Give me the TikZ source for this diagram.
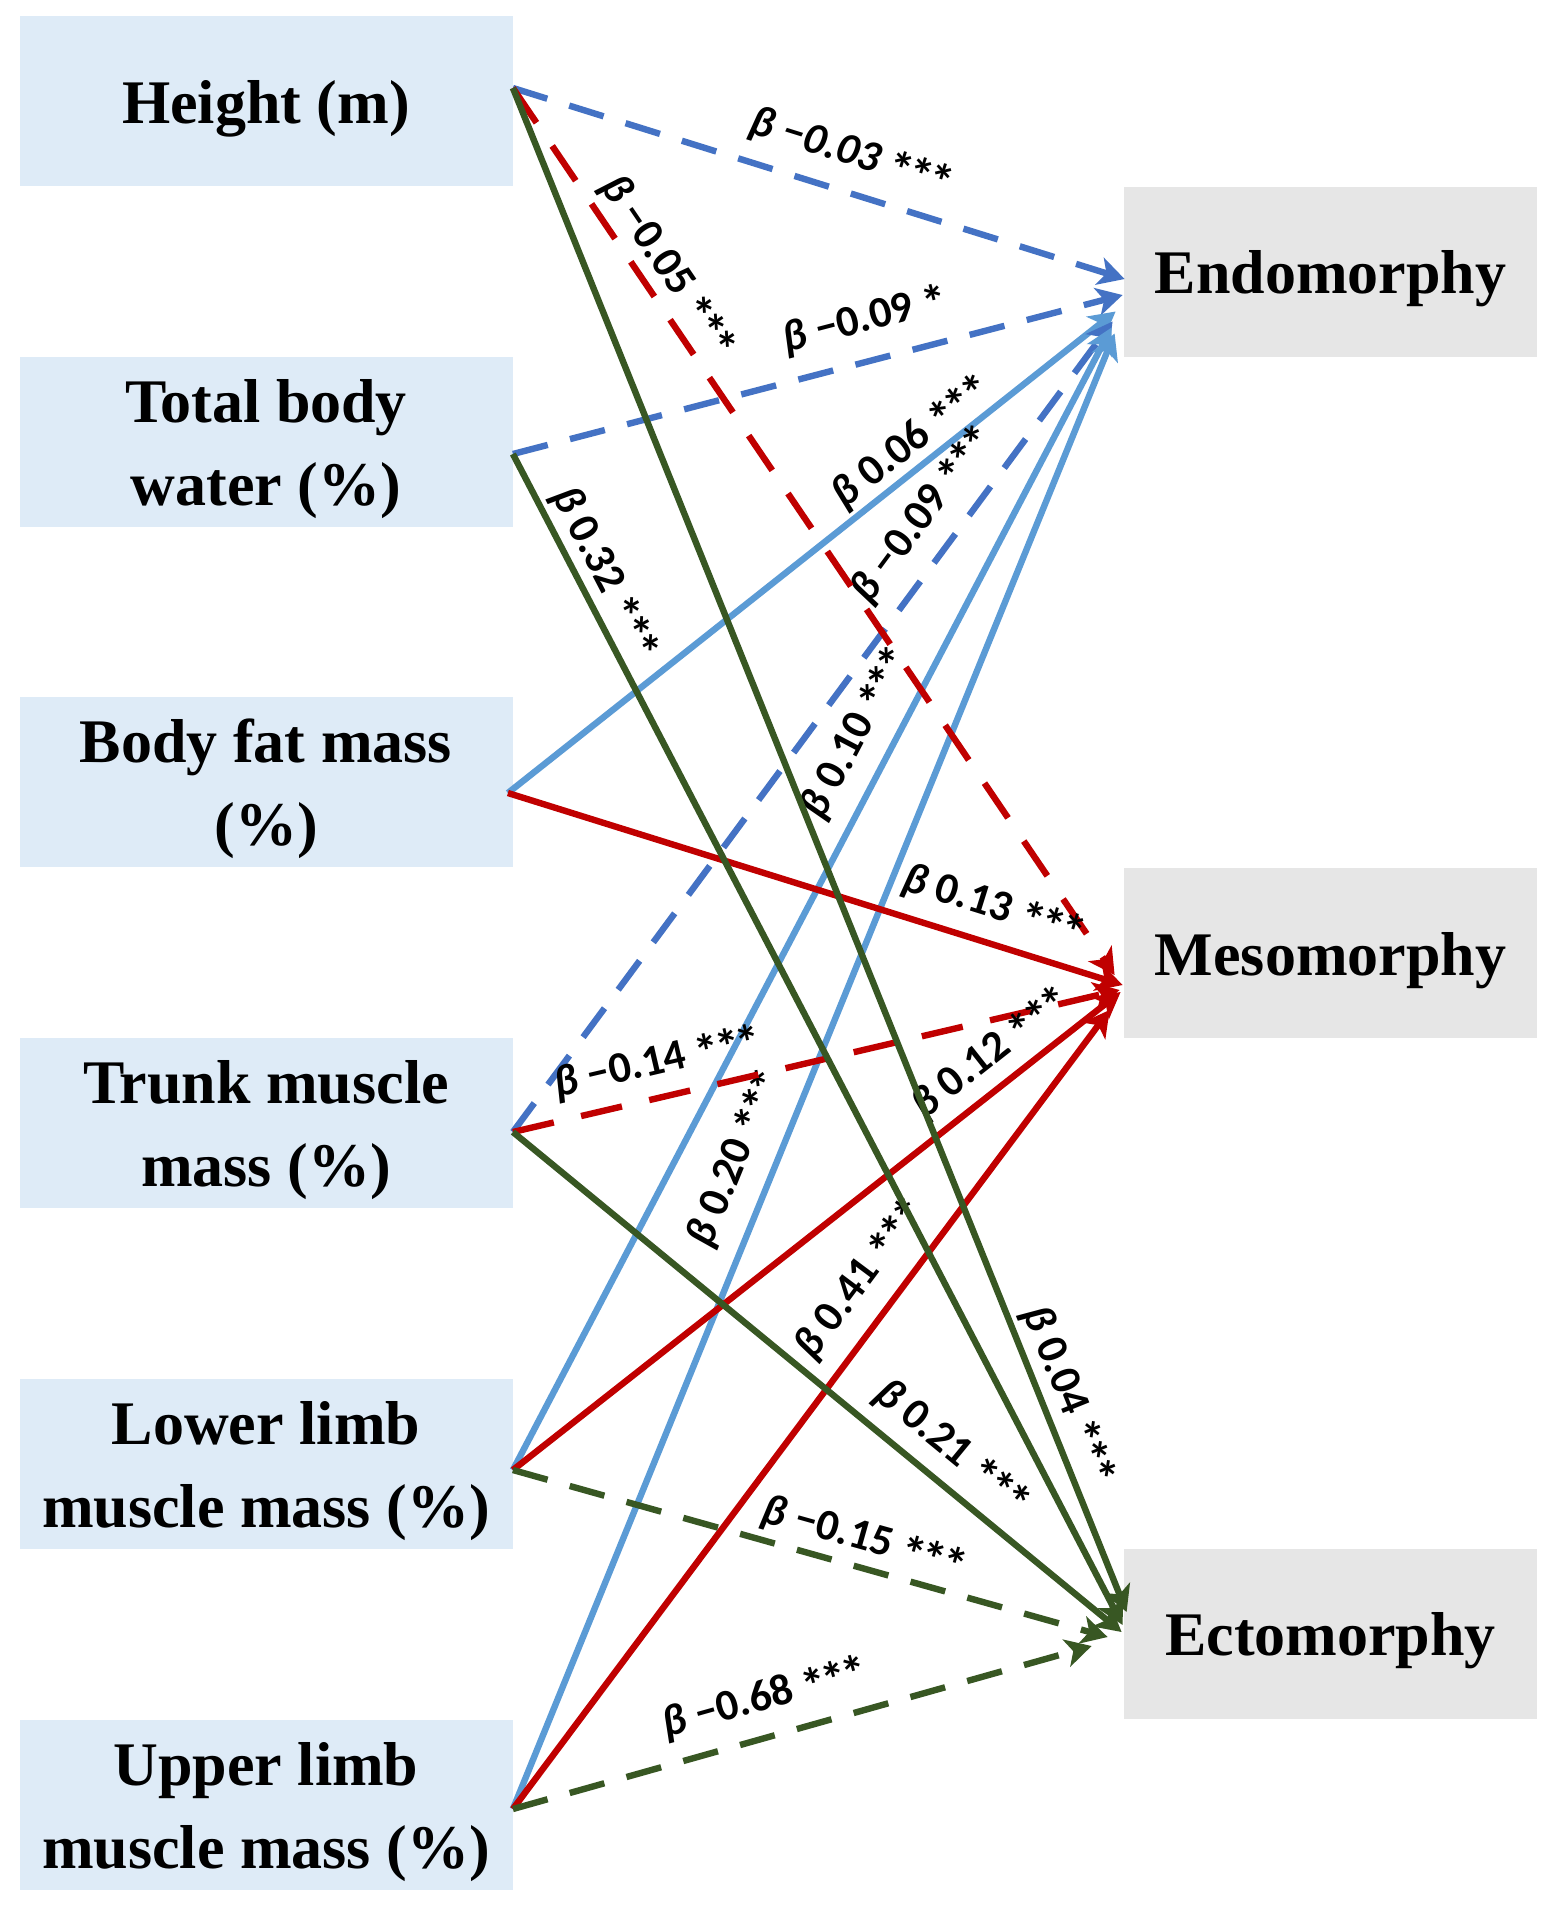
\documentclass[tikz,border=0pt]{standalone}
\usepackage{fontspec}
\setmainfont{Liberation Serif}
\newfontfamily\lblfont{Carlito}
\usetikzlibrary{arrows.meta,calc}
\definecolor{boxL}{RGB}{222,235,247}
\definecolor{boxR}{RGB}{230,230,230}
\definecolor{cblue}{RGB}{68,114,196}
\definecolor{clight}{RGB}{91,155,213}
\definecolor{cred}{RGB}{192,0,0}
\definecolor{cgreen}{RGB}{56,87,35}
\newcommand{\bb}{{\itshape β}}
\newcommand{\onestar}{{\fontsize{25}{25}\selectfont\raisebox{-3.5pt}{*}}}
\newcommand{\threestars}{\onestar\kern-2pt\onestar\kern-2pt\onestar}
\newcommand{\tstrut}{\rule{0pt}{29pt}}
\begin{document}
\begin{tikzpicture}[x=0.5pt,y=-0.5pt,
  inbox/.style={fill=boxL, minimum width=246.5pt, minimum height=85pt, inner sep=0pt, align=center, font=\fontsize{31}{41.5}\selectfont\bfseries},
  outbox/.style={fill=boxR, minimum width=206.5pt, minimum height=85pt, inner sep=0pt, align=center, font=\fontsize{31}{41.5}\selectfont\bfseries},
  conn/.style={line width=3.2pt, -{Stealth[length=13pt,width=14pt,inset=3.5pt]}},
  dsh/.style={dash pattern=on 18pt off 11.5pt},
  dshr/.style={dash pattern=on 21pt off 14pt},
  lbl/.style={font=\lblfont\bfseries\fontsize{22}{22}\selectfont, sloped, inner sep=0pt, text height=15pt, text depth=4pt, text=black}]
\fill[white] (0,0) rectangle (1550,1912);
\useasboundingbox (0,0) rectangle (1550,1912);

\node[inbox] (hgt) at (266,101) {\tstrut Height (m)};
\node[inbox] (tbw) at (266,441.5) {\tstrut Total body\\water (\%)};
\node[inbox] (bfm) at (266,782) {\tstrut Body fat mass\\(\%)};
\node[inbox] (trk) at (266,1122.5) {\tstrut Trunk muscle\\mass (\%)};
\node[inbox] (llm) at (266,1463.5) {\tstrut Lower limb\\muscle mass (\%)};
\node[inbox] (ulm) at (266,1805) {\tstrut Upper limb\\muscle mass (\%)};
\node[outbox] (endo) at (1330.5,271.5) {\tstrut Endomorphy};
\node[outbox] (meso) at (1330.5,953) {\tstrut Mesomorphy};
\node[outbox] (ecto) at (1330.5,1633.5) {\tstrut Ectomorphy};

\coordinate (hS) at ([yshift=6.5pt]hgt.east);
\coordinate (tS) at ([yshift=-6.25pt]tbw.east);
\coordinate (bS) at ([xshift=-2.5pt,yshift=-5.5pt]bfm.east);
\coordinate (kS) at ([yshift=-4.75pt]trk.east);
\coordinate (lS) at ([yshift=-3.25pt]llm.east);
\coordinate (uS) at ([yshift=-2pt]ulm.east);

\coordinate (e1) at ([xshift=0.5pt,yshift=-3.75pt]endo.west);
\coordinate (e2) at ([xshift=-0.5pt,yshift=-11.75pt]endo.west);
\coordinate (e3) at ([xshift=-4pt,yshift=-20pt]endo.west);
\coordinate (e4) at ([xshift=-5.5pt,yshift=-25pt]endo.west);
\coordinate (e5) at ([xshift=-6pt,yshift=-28pt]endo.west);
\coordinate (e6) at ([xshift=-4.5pt,yshift=-31pt]endo.west);

\coordinate (m1) at ([xshift=-4.5pt,yshift=-11pt]meso.west);
\coordinate (m2) at ([xshift=-0.5pt,yshift=-16pt]meso.west);
\coordinate (m3) at ([xshift=-2pt,yshift=-18.5pt]meso.west);
\coordinate (m4) at ([xshift=-1.5pt,yshift=-19.5pt]meso.west);
\coordinate (m5) at ([xshift=-7pt,yshift=-28.5pt]meso.west);

\coordinate (x1) at ([xshift=1.5pt,yshift=10.75pt]ecto.west);
\coordinate (x2) at ([xshift=-0.5pt,yshift=4.25pt]ecto.west);
\coordinate (x3) at ([xshift=-1pt,yshift=0.75pt]ecto.west);
\coordinate (x4) at ([xshift=-8pt,yshift=-1.75pt]ecto.west);
\coordinate (x5) at ([xshift=-16pt,yshift=-6.25pt]ecto.west);

% Endomorphy
\draw[conn,cblue,dsh] (hS) -- node[lbl,pos=0.535,above=8pt]{\bb{} {\itshape −0.03} \threestars} (e1);
\draw[conn,cblue,dsh] (tS) -- node[lbl,pos=0.595,above=9pt]{\bb{} −0.09 \onestar} (e2);
\draw[conn,clight] (bS) -- node[lbl,pos=0.69,above=1pt]{\bb{} 0.06 \threestars} (e3);
\draw[conn,cblue,dsh] (kS) -- node[lbl,pos=0.735,above=7.5pt]{\bb{} −0.09 \threestars} (e4);
\draw[conn,clight] (lS) -- node[lbl,pos=0.63,above=7.5pt]{\bb{} 0.10 \threestars} (e5);
\draw[conn,clight] (uS) -- node[lbl,pos=0.431,above=8.5pt]{\bb{} 0.20 \threestars} (e6);

% Mesomorphy
\draw[conn,cred,dshr] (hS) -- node[lbl,pos=0.22,above=2.3pt]{\bb{} −0.05 \threestars} (m1);
\draw[conn,cred] (bS) -- node[lbl,pos=0.773,above=7pt]{\bb{} 0.13 \threestars} (m2);
\draw[conn,cred,dshr] (kS) -- node[lbl,pos=0.252,above=6pt]{\bb{} −0.14 \threestars} (m3);
\draw[conn,cred] (lS) -- node[lbl,pos=0.82,above=4.5pt]{\bb{} 0.12 \threestars} (m4);
\draw[conn,cred] (uS) -- node[lbl,pos=0.635,above=8pt]{\bb{} 0.41 \threestars} (m5);

% Ectomorphy
\draw[conn,cgreen] (hS) -- node[lbl,pos=0.865,above=2.2pt]{\bb{} 0.04 \threestars} (x1);
\draw[conn,cgreen] (tS) -- node[lbl,pos=0.113,above=1.8pt]{\bb{} 0.32 \threestars} (x2);
\draw[conn,cgreen] (kS) -- node[lbl,pos=0.686,above=6pt]{\bb{} 0.21 \threestars} (x3);
\draw[conn,cgreen,dsh] (lS) -- node[lbl,pos=0.578,above=3pt]{\bb{} −0.15 \threestars} (x4);
\draw[conn,cgreen,dsh] (uS) -- node[lbl,pos=0.454,above=8pt]{\bb{} −0.68 \threestars} (x5);
\end{tikzpicture}
\end{document}
